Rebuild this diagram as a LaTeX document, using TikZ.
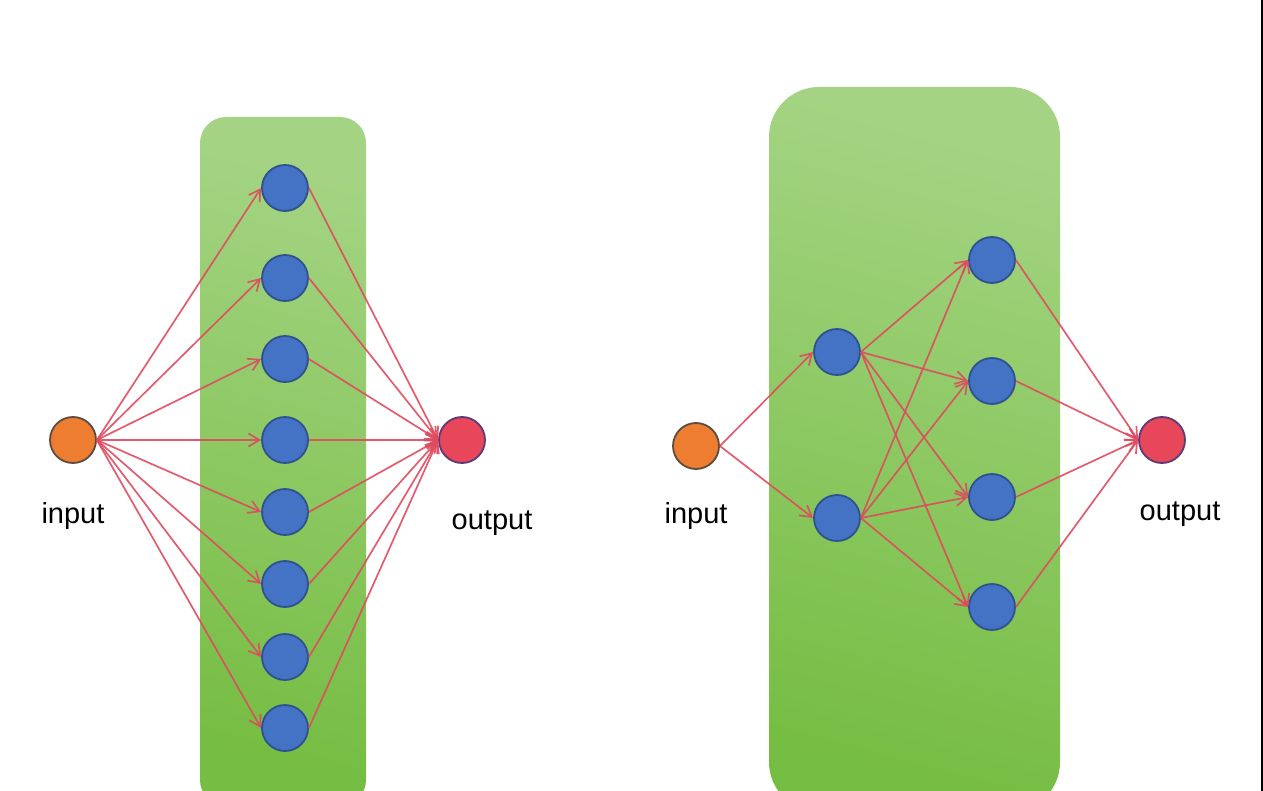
\documentclass[tikz,border=0pt]{standalone}
\usepackage{fontspec}
\setmainfont{Liberation Sans}
\usetikzlibrary{arrows.meta}
\definecolor{gtop}{HTML}{A4D483}
\definecolor{gbot}{HTML}{76BD43}
\definecolor{hid}{HTML}{4472C4}
\definecolor{hidb}{HTML}{2F528F}
\definecolor{inp}{HTML}{ED7D31}
\definecolor{inpb}{HTML}{5E4B3F}
\definecolor{outc}{HTML}{E8465A}
\definecolor{outb}{HTML}{5B3A78}
\definecolor{edge}{HTML}{E04A5E}
\tikzset{
  neuron/.style={circle, minimum size=46pt, inner sep=0pt, line width=1.8pt},
  hidden/.style={neuron, fill=hid, draw=hidb},
  innode/.style={neuron, fill=inp, draw=inpb},
  outnode/.style={neuron, fill=outc, draw=outb},
  conn/.style={draw=edge, draw opacity=0.9, line width=1.7pt, -{Straight Barb[length=11pt,width=13pt,line width=1.7pt]}},
  lbl/.style={font=\fontsize{29}{31}\selectfont, anchor=base, text=black, inner sep=0pt}
}
\begin{document}
\begin{tikzpicture}[x=1pt,y=-1pt]
\useasboundingbox (0,0) rectangle (1263,791);
\fill[white] (0,0) rectangle (1263,791);
\begin{scope}
\clip (0,0) rectangle (1263,791);
\shade[top color=gtop, bottom color=gbot, shading angle=-15, rounded corners=26pt] (200,117) rectangle (366,806);
\shade[top color=gtop, bottom color=gbot, shading angle=-15, rounded corners=50pt] (769,87) rectangle (1060,812);
\end{scope}
\draw[black, line width=2pt] (1261.5,0) -- (1261.5,791);

% left network
\node[innode] (i1) at (73,440) {};
\node[outnode] (o1) at (462,440) {};
\foreach \y [count=\k] in {188,278,359,440,512,584,657,728} {
  \node[hidden] (h\k) at (285,\y) {};
}
\foreach \k in {1,...,8} {
  \draw[conn] (i1.east) -- (h\k.west);
  \draw[conn] (h\k.east) -- (o1.west);
}
\node[lbl] (li1) at (73,523) {input};
\node[lbl] (lo1) at (492,529) {output};

% right network
\node[innode] (i2) at (696,446) {};
\node[outnode] (o2) at (1162,440) {};
\node[hidden] (a1) at (837,352) {};
\node[hidden] (a2) at (837,518) {};
\foreach \y [count=\k] in {260,381,497,607} {
  \node[hidden] (b\k) at (992,\y) {};
}
\draw[conn] (i2.east) -- (a1.west);
\draw[conn] (i2.east) -- (a2.west);
\foreach \j in {1,2} {
  \foreach \k in {1,...,4} {
    \draw[conn] (a\j.east) -- (b\k.west);
  }
}
\foreach \k in {1,...,4} {
  \draw[conn] (b\k.east) -- (o2.west);
}
\node[lbl] (li2) at (696,523) {input};
\node[lbl] (lo2) at (1180,520) {output};
\end{tikzpicture}
\end{document}
